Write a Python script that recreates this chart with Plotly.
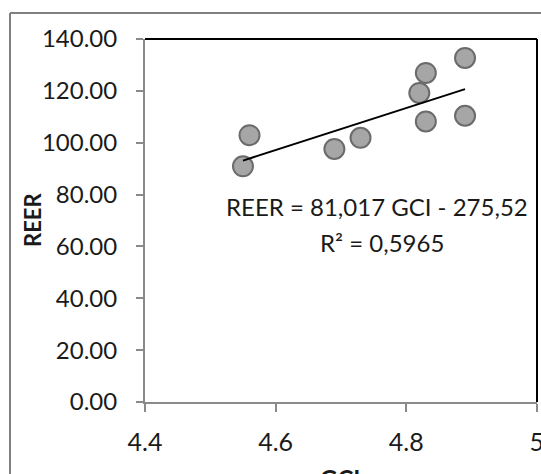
import plotly.graph_objects as go

gci = [4.55, 4.56, 4.69, 4.73, 4.82, 4.83, 4.83, 4.89, 4.89]
reer = [90.9, 102.9, 97.6, 101.9, 119.2, 126.9, 108.2, 132.7, 110.4]
slope = 81.017
intercept = -275.52
eq_text = "REER = 81,017 GCI - 275,52"
r2_text = "R² = 0,5965"
x_title = "GCI"
y_title = "REER"
x_ticks = [4.4, 4.6, 4.8, 5.0]
x_ticktext = ["4.4", "4.6", "4.8", "5"]
y_ticks = [0, 20, 40, 60, 80, 100, 120, 140]

FONT = "Lato"
x_line = [min(gci), max(gci)]
y_line = [slope * v + intercept for v in x_line]

fig = go.Figure()
fig.add_trace(go.Scatter(x=gci, y=reer, mode="markers",
                         marker=dict(size=20, color="#a6a6a6",
                                     line=dict(color="#6b6b6b", width=2)),
                         showlegend=False))
fig.add_trace(go.Scatter(x=x_line, y=y_line, mode="lines",
                         line=dict(color="black", width=2), showlegend=False))

L, R, T, B = 145, 4, 39, 72
W, H = 541, 474
pw, ph = W - L - R, H - T - B

def px(x):
    return (x - L) / pw

def py(y):
    return (H - B - y) / ph

fig.update_layout(
    width=W, height=H,
    margin=dict(l=L, r=R, t=T, b=B, autoexpand=False),
    paper_bgcolor="white", plot_bgcolor="white",
    font=dict(family=FONT, size=24, color="#1a1a1a"),
    xaxis=dict(range=[4.4, 5.0002], tickvals=x_ticks, ticktext=x_ticktext,
               showgrid=False, zeroline=False, showline=True, automargin=False,
               linecolor="#8a8a8a", linewidth=2, ticks="outside",
               ticklen=8, tickcolor="#8a8a8a", tickwidth=2,
               tickfont=dict(size=25, family=FONT, color="#1a1a1a"),
               ticklabelstandoff=9, ticklabeloverflow="allow"),
    yaxis=dict(range=[0, 140], tickvals=y_ticks, tickformat=".2f",
               showgrid=False, zeroline=False, showline=True, automargin=False,
               linecolor="#8a8a8a", linewidth=2, ticks="outside",
               ticklen=7, tickcolor="#8a8a8a", tickwidth=2,
               tickfont=dict(size=24, family=FONT, color="#1a1a1a"),
               ticklabelstandoff=14),
    shapes=[
        dict(type="line", xref="paper", yref="paper", x0=0, x1=1, y0=1, y1=1,
             line=dict(color="black", width=2)),
        dict(type="line", xref="paper", yref="paper", x0=1, x1=1, y0=0, y1=1,
             line=dict(color="black", width=2)),
        dict(type="line", xref="paper", yref="paper", x0=px(10), x1=px(10),
             y0=py(13), y1=py(490), line=dict(color="#808080", width=2)),
        dict(type="line", xref="paper", yref="paper", x0=px(10), x1=px(560),
             y0=py(13), y1=py(13), line=dict(color="#808080", width=2)),
    ],
    annotations=[
        dict(text=eq_text, xref="paper", yref="paper", x=px(377), y=py(206),
             showarrow=False, xanchor="center", yanchor="middle",
             font=dict(size=24, family=FONT, color="#1a1a1a")),
        dict(text=r2_text, xref="paper", yref="paper", x=px(382), y=py(242),
             showarrow=False, xanchor="center", yanchor="middle",
             font=dict(size=24, family=FONT, color="#1a1a1a")),
        dict(text="<b>" + y_title + "</b>", xref="paper", yref="paper",
             x=px(32), y=py(220), textangle=-90, showarrow=False,
             xanchor="center", yanchor="middle",
             font=dict(size=22, family=FONT, color="#1a1a1a")),
        dict(text="<b>" + x_title + "</b>", xref="paper", yref="paper",
             x=px(340), y=py(462), showarrow=False,
             xanchor="center", yanchor="top",
             font=dict(size=24, family=FONT, color="#1a1a1a")),
    ],
)

fig.write_html("out.html")
